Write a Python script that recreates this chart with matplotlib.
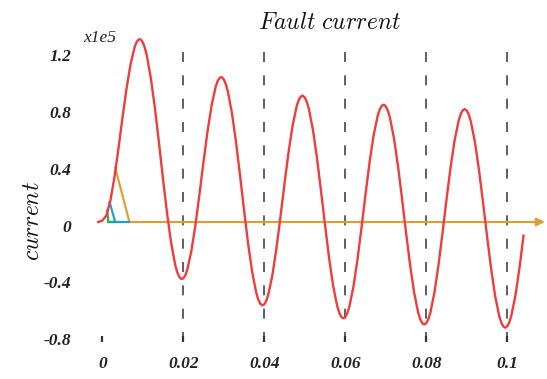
import matplotlib
matplotlib.use("Agg")
import matplotlib.pyplot as plt
import matplotlib.transforms as mtransforms

# time in ms, current in units of 1e5 A
t_ms = [-1, 0, 1, 2, 3, 4, 5, 6, 7, 8, 8.5, 9, 9.5, 10, 10.5, 11, 12, 13, 14, 15,
        16, 17, 18, 18.5, 19, 19.5, 20, 20.5, 21, 22, 23, 24, 25, 26, 27, 28,
        28.5, 29, 29.5, 30, 30.5, 31, 32, 33, 34, 35, 36, 37, 38, 38.5, 39, 39.5,
        40, 40.5, 41, 42, 43, 44, 45, 46, 47, 48, 48.5, 49, 49.5, 50, 50.5, 51,
        52, 53, 54, 55, 56, 57, 58, 58.5, 59, 59.5, 60, 60.5, 61, 62, 63, 64, 65,
        66, 67, 68, 68.5, 69, 69.5, 70, 70.5, 71, 72, 73, 74, 75, 76, 77, 78,
        78.5, 79, 79.5, 80, 80.5, 81, 82, 83, 84, 85, 86, 87, 88, 88.5, 89, 89.5,
        90, 90.5, 91, 92, 93, 94, 95, 96, 97, 98, 98.5, 99, 99.5, 100, 100.5,
        101, 102, 103, 104]
current = [0.000, 0.010, 0.045, 0.150, 0.314, 0.519, 0.736, 0.942, 1.114, 1.233,
           1.268, 1.286, 1.285, 1.265, 1.227, 1.172, 1.012, 0.801, 0.557, 0.302,
           0.060, -0.147, -0.301, -0.353, -0.386, -0.401, -0.397, -0.375, -0.334,
           -0.204, -0.021, 0.196, 0.425, 0.641, 0.823, 0.953, 0.993, 1.016, 1.020,
           1.005, 0.971, 0.920, 0.769, 0.567, 0.331, 0.084, -0.151, -0.350, -0.497,
           -0.545, -0.575, -0.587, -0.580, -0.554, -0.510, -0.374, -0.185, 0.038,
           0.272, 0.494, 0.681, 0.816, 0.859, 0.883, 0.890, 0.877, 0.846, 0.797,
           0.651, 0.452, 0.220, -0.023, -0.254, -0.450, -0.592, -0.639, -0.668,
           -0.678, -0.669, -0.642, -0.596, -0.457, -0.265, -0.040, 0.197, 0.422,
           0.612, 0.749, 0.793, 0.819, 0.826, 0.814, 0.784, 0.737, 0.592, 0.396,
           0.166, -0.075, -0.304, -0.498, -0.639, -0.685, -0.713, -0.722, -0.713,
           -0.684, -0.638, -0.498, -0.304, -0.078, 0.161, 0.387, 0.578, 0.716,
           0.760, 0.787, 0.795, 0.784, 0.755, 0.707, 0.564, 0.368, 0.139, -0.101,
           -0.329, -0.522, -0.662, -0.708, -0.735, -0.744, -0.734, -0.706, -0.659,
           -0.518, -0.324, -0.096]

# small construction lines near the origin: (t, i) vertices
green_pts = [(0.0012, 0.08), (0.0015, 0.0), (0.0026, 0.0)]
blue_pts = [(0.0018, 0.139), (0.0032, 0.0)]
blue_base = [(0.0015, 0.0), (0.0067, 0.0)]
orange_pts = [(0.0032, 0.382), (0.0067, 0.0)]
arrow_end = 0.1093

cycle_marks = [0.02, 0.04, 0.06, 0.08, 0.1]
xticks = [0, 0.02, 0.04, 0.06, 0.08, 0.1]
xtick_labels = ["0", "0.02", "0.04", "0.06", "0.08", "0.1"]
yticks = [1.2, 0.8, 0.4, 0, -0.4, -0.8]
ytick_labels = ["1.2", "0.8", "0.4", "0", "-0.4", "-0.8"]

RED = "#f03c3c"
ORANGE = "#d6a33a"
BLUE = "#1c9fdc"
GREEN = "#2fb04a"

plt.rcParams["mathtext.fontset"] = "cm"

W, H = 547, 379
fig = plt.figure(figsize=(W / 100, H / 100), dpi=100)
ax = fig.add_axes([96.2 / W, (H - 335.6) / H, 449.6 / W, (335.6 - 30.3) / H])

t = [v / 1000 for v in t_ms]

ax.vlines(cycle_marks, 1.2, -0.8, colors="#444444", linewidth=1.2,
          linestyles=[(0, (6, 8))], zorder=1)

ax.annotate("", xy=(arrow_end, 0), xytext=orange_pts[-1],
            arrowprops=dict(arrowstyle="-|>", color=ORANGE, lw=1.6,
                            mutation_scale=12, shrinkA=0, shrinkB=0),
            annotation_clip=False, zorder=2)
ax.plot(*zip(*orange_pts), color=ORANGE, lw=1.6, zorder=2)
ax.plot(*zip(*blue_base), color=BLUE, lw=1.6, zorder=3)
ax.plot(*zip(*blue_pts), color=BLUE, lw=1.6, zorder=3)
ax.plot(*zip(*green_pts), color=GREEN, lw=1.6, zorder=4)

ax.plot(t, current, color=RED, lw=1.7, solid_joinstyle="round", zorder=5)

ax.set_xlim(-0.0015, 0.1095)
ax.set_ylim(-0.8, 1.35)
for s in ax.spines.values():
    s.set_visible(False)

tick_font = dict(family="Liberation Serif", weight="bold", style="italic", size=12.5)
ax.set_xticks(xticks)
ax.set_xticklabels(xtick_labels, fontdict=tick_font, color="#222222")
ax.set_yticks(yticks)
ax.set_yticklabels(ytick_labels, fontdict=tick_font, color="#222222")
ax.tick_params(axis="x", length=4, width=1.6, color="#333333", pad=11)
ax.tick_params(axis="y", length=0, pad=18)

# y labels sit a few pixels below their gridline in the reference
shift = mtransforms.ScaledTranslation(0, -3.5 / 100, fig.dpi_scale_trans)
for lbl in ax.get_yticklabels():
    lbl.set_transform(lbl.get_transform() + shift)

fig.text(330 / W, 1 - 22 / H, r"$\mathit{Fault\ current}$", fontsize=17,
         ha="center", va="center", color="#111111")
fig.text(32 / W, 1 - 221 / H, r"$\mathit{current}$", fontsize=17, rotation=90,
         ha="center", va="center", color="#111111")
fig.text(100 / W, 1 - 38 / H, "x1e5", family="Liberation Serif", style="italic",
         fontsize=12.5, ha="center", va="center", color="#222222")

fig.savefig("out.png", dpi=100)
